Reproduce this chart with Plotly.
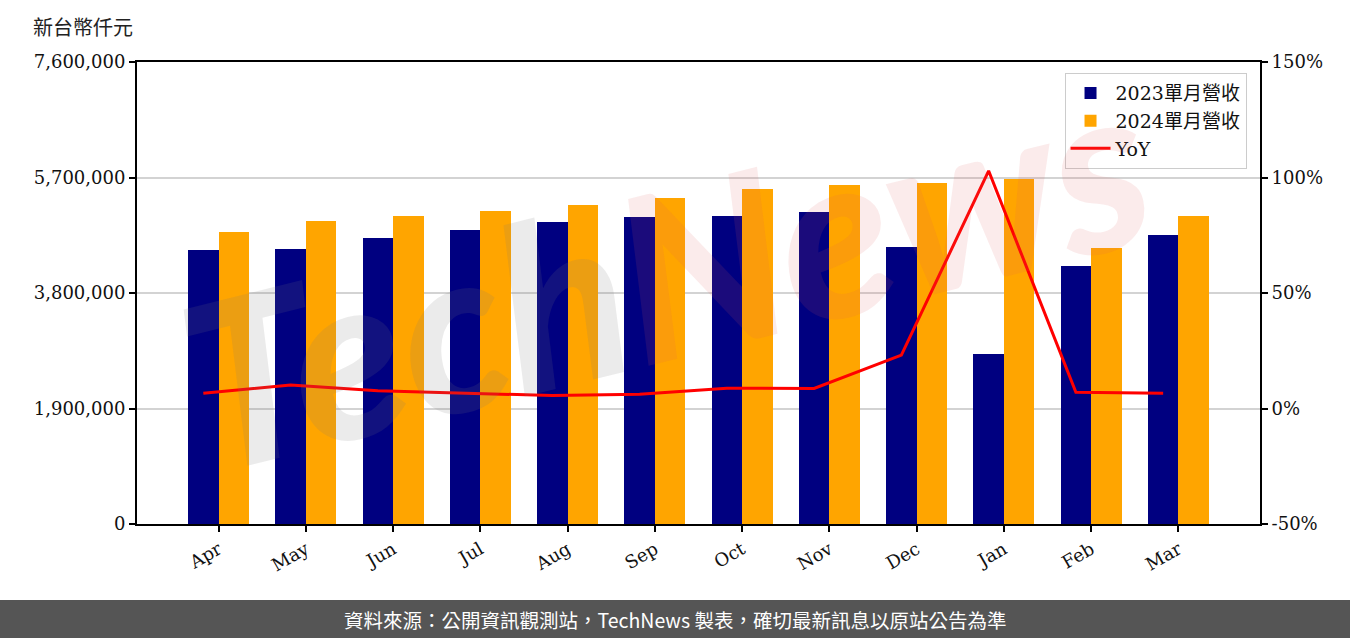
import plotly.graph_objects as go

months = ["Apr", "May", "Jun", "Jul", "Aug", "Sep", "Oct", "Nov", "Dec", "Jan", "Feb", "Mar"]
rev_2023 = [4507000, 4524000, 4705000, 4836000, 4968000, 5050000, 5067000, 5132000, 4557000, 2797000, 4244000, 4754000]
rev_2024 = [4803000, 4984000, 5067000, 5149000, 5248000, 5363000, 5511000, 5577000, 5610000, 5675000, 4540000, 5067000]
yoy_pct = [6.6, 10.2, 7.7, 6.5, 5.6, 6.2, 8.8, 8.7, 23.1, 102.9, 7.0, 6.6]
y_ticks = [0, 1900000, 3800000, 5700000, 7600000]
y2_ticks = [-50, 0, 50, 100, 150]

W = 0.35
idx = list(range(len(months)))
x_2023 = [i for i in idx]
x_2024 = [i + W for i in idx]
x_tick = [i + W / 2 for i in idx]

SERIF = "DejaVu Serif, Noto Sans CJK TC, serif"
CJK = "Noto Sans CJK TC, sans-serif"

fig = go.Figure()
fig.add_trace(go.Bar(x=x_2023, y=rev_2023, width=W, name="2023單月營收",
                     marker=dict(color="#000080", line=dict(width=0))))
fig.add_trace(go.Bar(x=x_2024, y=rev_2024, width=W, name="2024單月營收",
                     marker=dict(color="#FFA500", line=dict(width=0))))
fig.add_trace(go.Scatter(x=x_2023, y=yoy_pct, name="YoY", mode="lines",
                         line=dict(color="#FF0000", width=3), yaxis="y2"))

# watermark
fig.add_annotation(
    xref="paper", yref="paper", x=0.47, y=0.55,
    text="<span style='color:rgba(120,120,120,0.15)'>Tech</span>"
         "<span style='color:rgba(220,90,90,0.12)'>News</span>",
    showarrow=False, textangle=-14,
    font=dict(family="Lato, sans-serif", size=230, weight=900, style="italic"),
)

# footer band
fig.add_shape(type="rect", xref="paper", yref="paper",
              x0=-0.2, x1=1.2, y0=-0.26, y1=(524 - 600) / 462,
              fillcolor="#555555", line=dict(width=0), layer="above")
fig.add_annotation(xref="paper", yref="paper", x=(675 - 137) / 1123, y=(524 - 619) / 462,
                   text="資料來源：公開資訊觀測站，TechNews 製表，確切最新訊息以原站公告為準",
                   showarrow=False, font=dict(family=CJK, size=19.5, color="white"),
                   xanchor="center", yanchor="middle")
# unit title
fig.add_annotation(xref="paper", yref="paper", x=(31 - 137) / 1123, y=(524 - 28) / 462,
                   text="新台幣仟元", showarrow=False,
                   font=dict(family=SERIF, size=20, color="#222"),
                   xanchor="left", yanchor="middle")

fig.update_layout(
    width=1350, height=638,
    margin=dict(l=137, r=90, t=62, b=114, autoexpand=False),
    paper_bgcolor="white", plot_bgcolor="white",
    barmode="overlay", bargap=0,
    showlegend=True,
    legend=dict(x=0.988, y=0.976, xanchor="right", yanchor="top",
                bgcolor="rgba(255,255,255,0.8)", bordercolor="#cccccc", borderwidth=1,
                font=dict(family=SERIF, size=19, color="#111"),
                itemwidth=40, tracegroupgap=2),
    xaxis=dict(range=[-0.76, 12.11], tickvals=x_tick, ticktext=months,
               tickangle=-30, ticks="outside", ticklen=6, tickwidth=2, tickcolor="black",
               showline=True, linecolor="black", linewidth=2, mirror=True,
               showgrid=False, zeroline=False,
               tickfont=dict(family=SERIF, size=18, color="#111")),
    yaxis=dict(range=[0, 7600000], tickvals=y_ticks,
               ticktext=[f"{v:,}" for v in y_ticks],
               ticks="outside", ticklen=6, tickwidth=2, tickcolor="black",
               showline=True, linecolor="black", linewidth=2,
               showgrid=True, gridcolor="#d3d3d3", gridwidth=1.5, zeroline=False,
               tickfont=dict(family=SERIF, size=18, color="#111")),
    yaxis2=dict(range=[-50, 150], tickvals=y2_ticks,
                ticktext=[f"{v}%" for v in y2_ticks],
                overlaying="y", side="right",
                ticks="outside", ticklen=6, tickwidth=2, tickcolor="black",
                showline=True, linecolor="black", linewidth=2,
                showgrid=False, zeroline=False,
                tickfont=dict(family=SERIF, size=18, color="#111")),
)

fig.write_html("out.html", config={"displayModeBar": False},
               post_script="document.body.style.margin='0';document.body.style.overflow='hidden';")
